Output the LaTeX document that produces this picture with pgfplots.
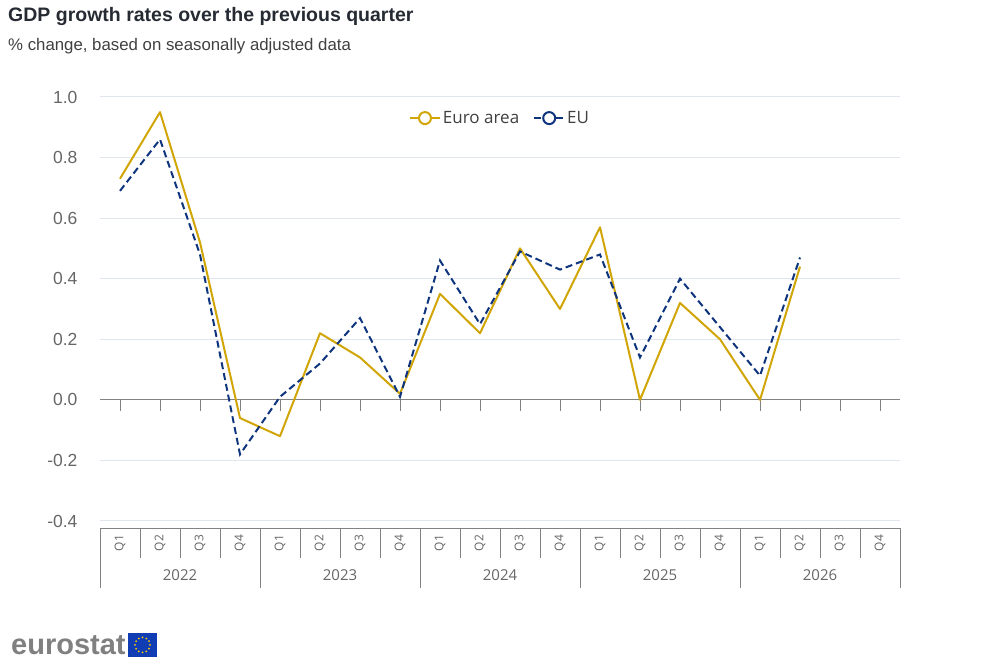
\documentclass[border=0pt]{standalone}
\usepackage{pgfplots}
\pgfplotsset{compat=1.18}
\usepackage{fontspec}
\setmainfont{Liberation Sans}
\newfontfamily\os{Open Sans}
\definecolor{gold}{RGB}{208,165,5}
\definecolor{eublue}{RGB}{14,52,126}
\definecolor{gridc}{RGB}{224,230,240}
\definecolor{axgray}{RGB}{130,130,130}
\definecolor{labgray}{RGB}{102,102,102}
\definecolor{titlec}{RGB}{38,43,51}
\definecolor{flagblue}{RGB}{16,60,180}
\definecolor{flagyellow}{RGB}{255,204,0}

\pgfplotstableread{
x ea eu
0 0.73 0.69
1 0.95 0.86
2 0.52 0.48
3 -0.06 -0.18
4 -0.12 0.01
5 0.22 0.12
6 0.14 0.27
7 0.02 0.01
8 0.35 0.46
9 0.22 0.25
10 0.50 0.49
11 0.30 0.43
12 0.57 0.48
13 0.00 0.14
14 0.32 0.40
15 0.20 0.24
16 0.00 0.08
17 0.44 0.47
}\gdp

\begin{document}
\begin{tikzpicture}
\begin{scope}[x=1bp,y=1bp]
\useasboundingbox (0,0) rectangle (1000,668);
% title
\node[anchor=base west, inner sep=0, text=titlec, font=\fontsize{19.5bp}{22bp}\selectfont\bfseries] at (8,646) {GDP growth rates over the previous quarter};
\node[anchor=base west, inner sep=0, text=black!75, font=\fontsize{16.8bp}{19bp}\selectfont] at (8,617) {\% change, based on seasonally adjusted data};
\end{scope}

\begin{axis}[
  at={(100bp,140bp)}, anchor=south west,
  width=800bp, height=431bp, scale only axis,
  xmin=-0.5, xmax=19.5, ymin=-0.4231, ymax=1.0,
  axis lines*=left,
  y axis line style={draw=none},
  x axis line style={draw=axgray, line width=0.8bp},
  ytick={-0.4,-0.2,0,0.2,0.4,0.6,0.8,1.0},
  yticklabels={-0.4,-0.2,0.0,0.2,0.4,0.6,0.8,1.0},
  yticklabel style={font=\fontsize{17.5bp}{20bp}\selectfont, text=labgray, anchor=east, xshift=-19bp},
  ymajorgrids, grid style={draw=gridc, line width=1bp},
  xtick={0,...,19},
  xticklabels={Q1,Q2,Q3,Q4,Q1,Q2,Q3,Q4,Q1,Q2,Q3,Q4,Q1,Q2,Q3,Q4,Q1,Q2,Q3,Q4},
  xticklabel style={yshift=-15bp, rotate=90, anchor=center, font=\os\fontsize{12bp}{14bp}\selectfont, text=labgray},
  major tick length=0pt,
  minor xtick={-0.5,0.5,...,19.5},
  minor tick length=30bp,
  tick align=outside,
  minor tick style={draw=axgray, line width=0.8bp},
  legend style={at={(0.5,0.951)}, anchor=center, draw=none, fill=none,
    font=\os\fontsize{17bp}{19bp}\selectfont, text=black!75,
    /tikz/every even column/.append style={column sep=12bp}},
  legend columns=2,
  legend image code/.code={\draw[#1] (0bp,0bp) -- (30bp,0bp); \draw[#1,solid,fill=white] (15bp,0bp) circle (6bp);},
  clip=false,
]
\draw[axgray, line width=0.8bp] (axis cs:-0.5,0) -- (axis cs:19.5,0);
\pgfplotsinvokeforeach{0,...,19}{\draw[axgray, line width=0.8bp] (axis cs:#1,0) -- ++(0bp,-11bp);}
\addplot[gold, line width=2bp, line join=round] table[x=x, y=ea] {\gdp};
\addlegendentry{Euro area}
\addplot[eublue, line width=2bp, dash pattern=on 7bp off 4bp] table[x=x, y=eu] {\gdp};
\addlegendentry{EU}
\end{axis}

\begin{scope}[x=1bp,y=1bp]
% year separators and labels
\foreach \xx in {100,260,420,580,740,900}{\draw[axgray, line width=0.8bp] (\xx,140) -- (\xx,80);}
\foreach \yr [count=\i from 0] in {2022,2023,2024,2025,2026}{
  \node[font=\os\fontsize{15bp}{18bp}\selectfont, text=labgray] at ({180+160*\i},93) {\yr};
}
% eurostat logo
\node[anchor=base west, inner sep=0, text=black!50, font=\fontsize{29bp}{30bp}\selectfont\bfseries] at (11,13) {eurostat};
\fill[flagblue] (128,11) rectangle (157,35);
\foreach \a in {0,30,...,330}{\fill[flagyellow] ([shift={(\a:7.5)}]142.5,23) circle (1);}
\end{scope}
\end{tikzpicture}
\end{document}
